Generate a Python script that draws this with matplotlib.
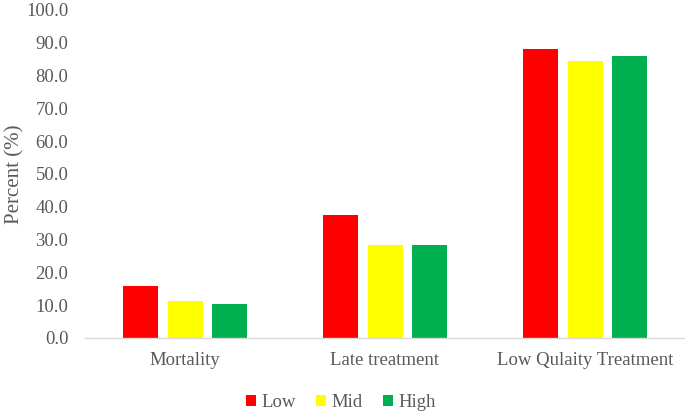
import matplotlib
matplotlib.use("Agg")
import matplotlib.pyplot as plt
import numpy as np

categories = ["Mortality", "Late treatment", "Low Qulaity Treatment"]
series_names = ["Low", "Mid", "High"]
low_vals = [15.8, 37.6, 88.2]
mid_vals = [11.4, 28.4, 84.6]
high_vals = [10.5, 28.4, 86.0]
colors = ["#ff0000", "#ffff00", "#00b050"]

plt.rcParams["font.family"] = ["Liberation Serif", "DejaVu Serif"]
text_color = "#595959"

fig = plt.figure(figsize=(6.85, 4.13), dpi=100)
ax = fig.add_axes([85 / 685, 1 - 338 / 413, 600 / 685, 328 / 413])

x = np.arange(len(categories))
width = 0.175
step = 0.222
for i, (name, vals) in enumerate(zip(series_names, [low_vals, mid_vals, high_vals])):
    ax.bar(x + (i - 1) * step, vals, width, color=colors[i], label=name)

ax.set_xlim(-0.5, len(categories) - 0.5)
ax.set_ylim(0, 100)
ax.set_yticks(np.arange(0, 101, 10))
ax.set_yticklabels([f"{v:.1f}" for v in np.arange(0, 101, 10)])
ax.set_xticks(x)
ax.set_xticklabels(categories)
ax.tick_params(axis="both", length=0, labelsize=13.5, colors=text_color)
ax.tick_params(axis="y", pad=12)
ax.tick_params(axis="x", pad=10)

for side in ["top", "right", "left"]:
    ax.spines[side].set_visible(False)
ax.spines["bottom"].set_color("#d9d9d9")
ax.spines["bottom"].set_linewidth(1.0)

ax.set_ylabel("Percent (%)", fontsize=15, color=text_color)
ax.yaxis.set_label_coords(-61 / 600, 0.5)

ax.legend(loc="upper center", bbox_to_anchor=(256 / 600, -0.12), ncol=3, frameon=False,
          fontsize=13.5, labelcolor=text_color, handlelength=0.5, handleheight=0.5,
          handletextpad=0.3, columnspacing=1.1)

fig.savefig("out.png", dpi=100)
